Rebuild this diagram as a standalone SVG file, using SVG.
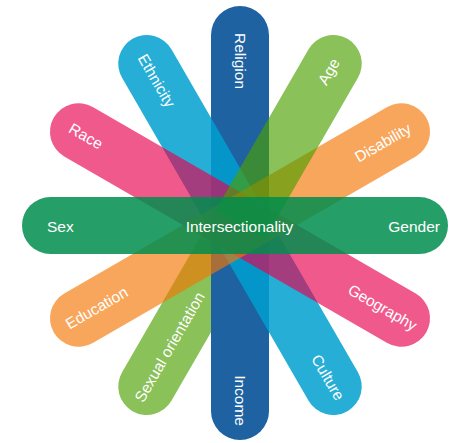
<svg xmlns="http://www.w3.org/2000/svg" width="449" height="443" viewBox="0 0 449 443">
  <style>
    .lbl { font-family: "Liberation Sans", Arial, Helvetica, sans-serif; font-size: 15.5px; fill: #ffffff; }
    .s { text-anchor: start; }
    .e { text-anchor: end; }
    .m { text-anchor: middle; }
    .blue { fill: #1e62a2; }
    .cyan { fill: #00a0cf; fill-opacity: 0.85; }
    .pink { fill: #e8004e; fill-opacity: 0.65; }
    .orange { fill: #f47604; fill-opacity: 0.65; }
    .lgreen { fill: #4ba000; fill-opacity: 0.65; }
    .green { fill: #008d4d; fill-opacity: 0.85; }
  </style>
  <defs>
    <path id="half-end" d="M0,-28.5 H186.5 A28.5,28.5 0 0 1 186.5,28.5 H0 Z"/>
    <path id="half-start" d="M0,-28.5 H-186.5 A28.5,28.5 0 0 0 -186.5,28.5 H0 Z"/>
  </defs>
  <rect width="449" height="443" fill="#ffffff"/>

  <g id="sexual-orientation-half" transform="translate(240,225) rotate(-60)">
    <use href="#half-start" class="lgreen"/>
  </g>

  <g id="religion-income" transform="translate(240,223) rotate(90)">
    <rect class="blue" x="-217" y="-29" width="434" height="58" rx="29"/>
    <text class="lbl s" x="-190" y="5.5">Religion</text>
    <text class="lbl e" x="203" y="5.5">Income</text>
  </g>

  <g id="ethnicity-culture" transform="translate(240,225) rotate(60)">
    <rect class="cyan" x="-215" y="-28.5" width="430" height="57" rx="28.5"/>
    <text class="lbl s" x="-196" y="5.5">Ethnicity</text>
    <text class="lbl e" x="201" y="5.5">Culture</text>
  </g>

  <g id="race-geography" transform="translate(240,225) rotate(30)">
    <rect class="pink" x="-215" y="-28.5" width="430" height="57" rx="28.5"/>
    <text class="lbl s" x="-196" y="5.5">Race</text>
    <text class="lbl e" x="203" y="5.5">Geography</text>
  </g>

  <g id="disability-education" transform="translate(240,225) rotate(-30)">
    <rect class="orange" x="-215" y="-28.5" width="430" height="57" rx="28.5"/>
    <text class="lbl e" x="196" y="5.5">Disability</text>
    <text class="lbl s" x="-200" y="5.5">Education</text>
  </g>

  <g id="age-sexual-orientation" transform="translate(240,225) rotate(-60)">
    <use href="#half-end" class="lgreen"/>
    <text class="lbl e" x="191" y="5.5">Age</text>
    <text class="lbl s" x="-203" y="5.5">Sexual orientation</text>
  </g>

  <g id="sex-gender" transform="translate(235,225.5)">
    <rect class="green" x="-213" y="-28.5" width="426" height="57" rx="28.5"/>
    <text class="lbl s" x="-188" y="6.5">Sex</text>
    <text class="lbl e" x="205" y="6.5">Gender</text>
  </g>

  <g id="intersectionality">
    <text class="lbl m" x="239.5" y="231.5">Intersectionality</text>
  </g>

  <g id="connectors"/>
</svg>
